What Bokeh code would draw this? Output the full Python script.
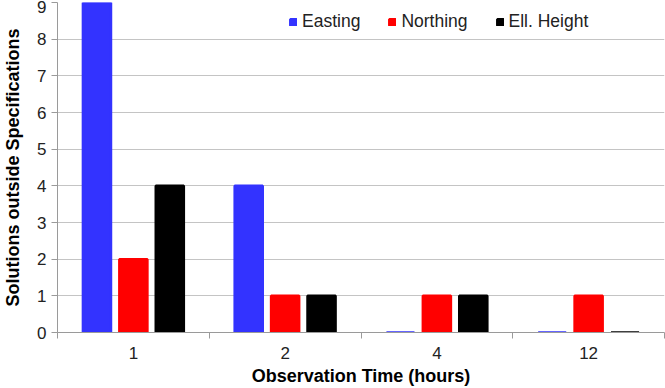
from bokeh.plotting import figure
from bokeh.models import (ColumnDataSource, Range1d, FixedTicker, SingleIntervalTicker,
                          Legend, LegendItem)
from bokeh.transform import dodge
from bokeh.embed import file_html
from bokeh.resources import INLINE

categories = ["1", "2", "4", "12"]
easting = [9, 4, 0, 0]
northing = [2, 1, 1, 1]
ell_height = [4, 1, 1, 0]
y_ticks = list(range(0, 10))

xs = [i + 0.5 for i in range(len(categories))]
src = ColumnDataSource(dict(x=xs, easting=easting, northing=northing, height=ell_height))

FONT = "Liberation Sans"
AXIS_C = "#9A9A9A"
GRID_C = "#C4C4C4"

p = figure(width=665, height=388, output_backend="svg", toolbar_location=None,
           x_range=Range1d(0, len(categories)), y_range=Range1d(0, 9),
           min_border_left=56, min_border_right=1, min_border_top=2, min_border_bottom=56)
p.outline_line_color = None
p.background_fill_color = "white"

bw = 0.185
lw = 2.5
r1 = p.vbar(x=dodge("x", -0.24, range=p.x_range), top="easting", width=bw, bottom=0,
            source=src, fill_color="#3333FF", line_color="#3333FF", line_width=lw)
r2 = p.vbar(x=dodge("x", 0.0, range=p.x_range), top="northing", width=bw, bottom=0,
            source=src, fill_color="#FF0000", line_color="#FF0000", line_width=lw)
r3 = p.vbar(x=dodge("x", 0.24, range=p.x_range), top="height", width=bw, bottom=0,
            source=src, fill_color="#000000", line_color="#000000", line_width=lw)

# x axis
xa = p.xaxis[0]
xa.ticker = FixedTicker(ticks=xs, minor_ticks=list(range(len(categories) + 1)))
xa.major_label_overrides = {x: c for x, c in zip(xs, categories)}
xa.major_tick_line_color = None
xa.major_tick_out = 0
xa.major_tick_in = 0
xa.minor_tick_out = 6
xa.minor_tick_in = 0
xa.minor_tick_line_color = AXIS_C
xa.axis_line_color = AXIS_C
xa.major_label_text_font = FONT
xa.major_label_text_font_size = "17px"
xa.major_label_text_color = "#222222"
xa.major_label_standoff = 8
xa.axis_label = "Observation Time (hours)"
xa.axis_label_text_font = FONT
xa.axis_label_text_font_style = "bold"
xa.axis_label_text_font_size = "18px"
xa.axis_label_text_color = "#000000"
xa.axis_label_standoff = 4

# y axis
ya = p.yaxis[0]
ya.ticker = SingleIntervalTicker(interval=1, num_minor_ticks=0)
ya.minor_tick_line_color = None
ya.major_tick_out = 6
ya.major_tick_in = 0
ya.major_tick_line_color = AXIS_C
ya.axis_line_color = AXIS_C
ya.major_label_text_font = FONT
ya.major_label_text_font_size = "17px"
ya.major_label_text_color = "#222222"
ya.major_label_standoff = 5
ya.axis_label = "Solutions outside Specifications"
ya.axis_label_text_font = FONT
ya.axis_label_text_font_style = "bold"
ya.axis_label_text_font_size = "18px"
ya.axis_label_text_color = "#000000"
ya.axis_label_standoff = 11

p.xgrid.grid_line_color = None
p.ygrid.grid_line_color = GRID_C
p.ygrid.ticker = ya.ticker

legend = Legend(items=[LegendItem(label="Easting", renderers=[r1]),
                       LegendItem(label="Northing", renderers=[r2]),
                       LegendItem(label="Ell. Height", renderers=[r3])],
                orientation="horizontal", location=(232, 300),
                padding=0, margin=0, spacing=28, label_standoff=5,
                glyph_width=8, glyph_height=8,
                border_line_color=None, background_fill_alpha=0,
                label_text_font=FONT, label_text_font_size="17.5px",
                label_text_color="#222222")
p.add_layout(legend, "center")

open("out.html", "w").write(file_html(p, INLINE))
